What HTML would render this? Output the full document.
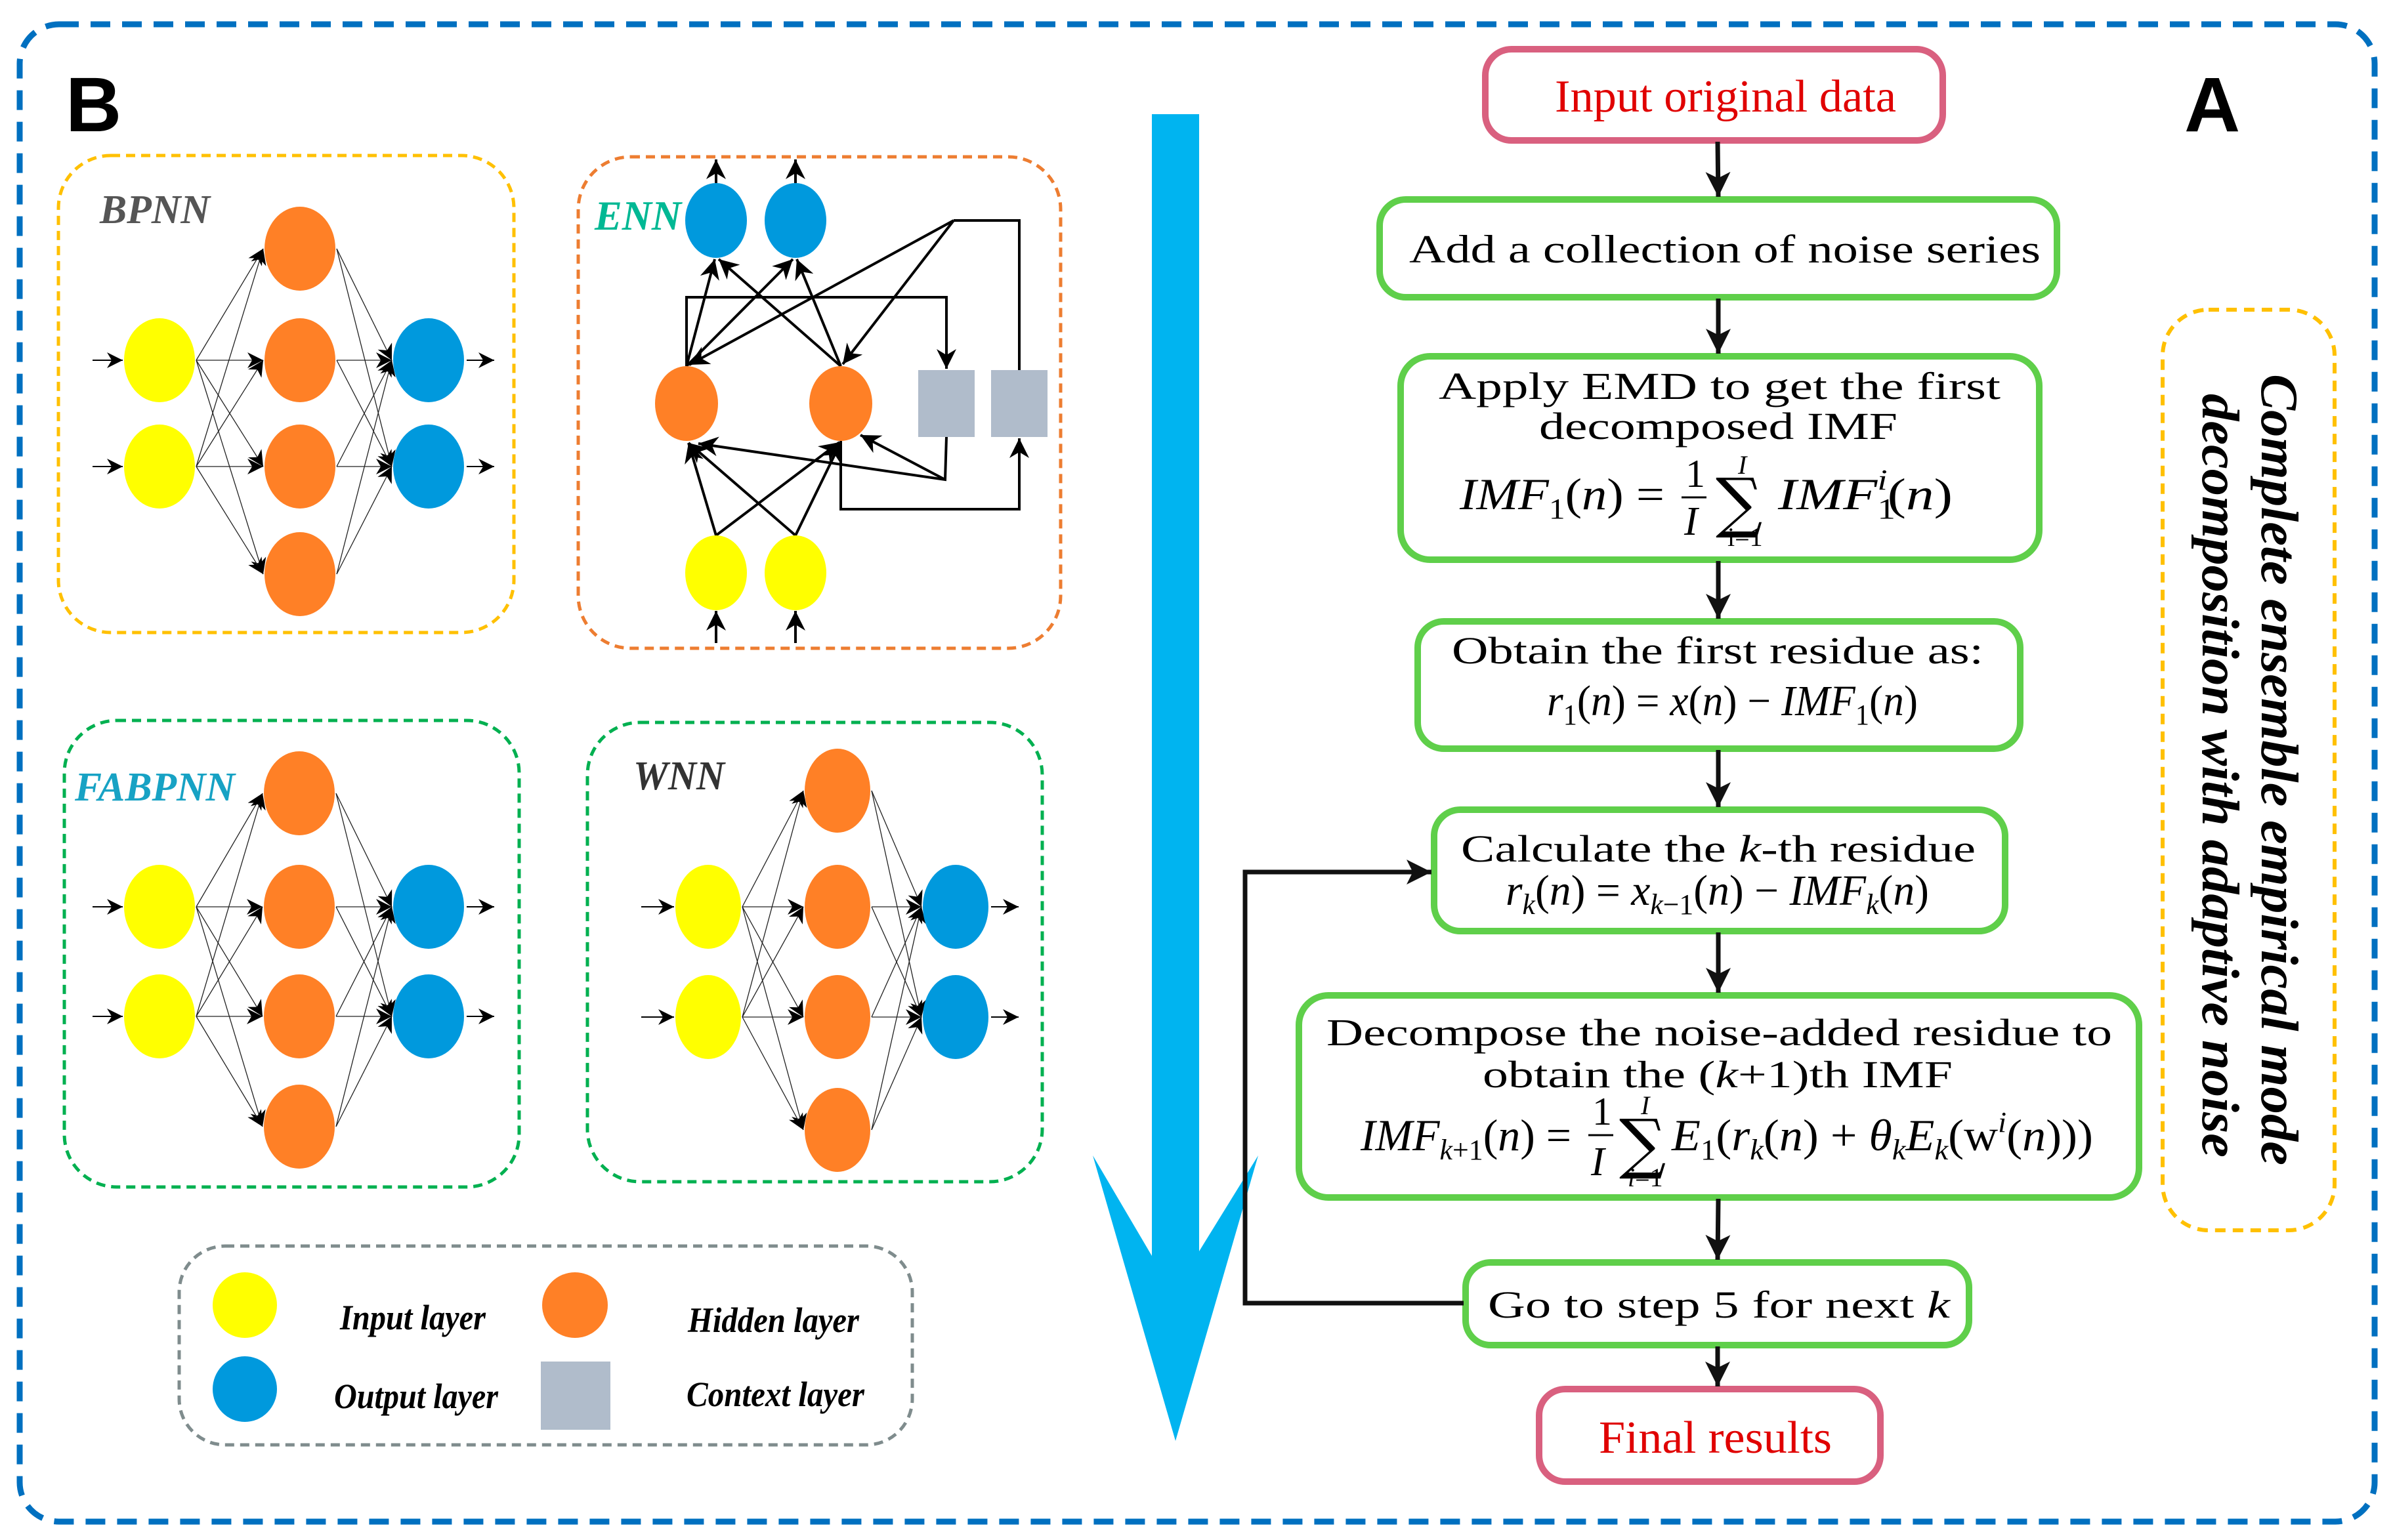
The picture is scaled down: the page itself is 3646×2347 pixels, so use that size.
<!DOCTYPE html>
<html><head><meta charset="utf-8"><style>
html,body{margin:0;padding:0;background:#fff;}
svg{display:block;}
.s{font-family:"Liberation Serif",serif;}
.bi{font-family:"Liberation Serif",serif;font-weight:bold;font-style:italic;}
.m{font-family:"Liberation Serif",serif;font-style:italic;}
.sig{font-family:"DejaVu Serif","Liberation Serif",serif;font-style:normal;}
</style></head><body>
<svg id="sv" width="3646" height="2347" viewBox="0 0 3646 2347" xmlns="http://www.w3.org/2000/svg">
<defs>
<marker id="ta" viewBox="0 0 10 10" refX="10" refY="5" markerWidth="24" markerHeight="24" markerUnits="userSpaceOnUse" orient="auto"><path d="M0,0 L10,5 L0,10 L3,5 z" fill="#000"/></marker>
<marker id="ea" viewBox="0 0 10 10" refX="10" refY="5" markerWidth="30" markerHeight="30" markerUnits="userSpaceOnUse" orient="auto"><path d="M0,0 L10,5 L0,10 L3,5 z" fill="#000"/></marker>
<marker id="fa" viewBox="0 0 10 10" refX="10" refY="5" markerWidth="38" markerHeight="38" markerUnits="userSpaceOnUse" orient="auto"><path d="M0,0 L10,5 L0,10 L2.5,5 z" fill="#111"/></marker>
</defs>

<rect x="30" y="37" width="3588" height="2282" rx="60" fill="none" stroke="#0070c0" stroke-width="9" stroke-dasharray="30 18"/>
<text x="100" y="200" font-family="Liberation Sans,sans-serif" font-weight="bold" font-size="118">B</text>
<text x="3328" y="200" font-family="Liberation Sans,sans-serif" font-weight="bold" font-size="118">A</text>

<rect x="89" y="237" width="694" height="727" rx="80" fill="none" stroke="#ffc000" stroke-width="5" stroke-dasharray="14 9"/>
<rect x="881" y="239" width="735" height="749" rx="80" fill="none" stroke="#ed7d31" stroke-width="5" stroke-dasharray="14 9"/>
<rect x="98" y="1098" width="693" height="711" rx="80" fill="none" stroke="#00b050" stroke-width="5" stroke-dasharray="14 9"/>
<rect x="895" y="1101" width="693" height="700" rx="80" fill="none" stroke="#00b050" stroke-width="5" stroke-dasharray="14 9"/>
<rect x="273" y="1899" width="1117" height="303" rx="70" fill="none" stroke="#7f8c8d" stroke-width="5" stroke-dasharray="14 9"/>

<text x="152" y="340" class="bi" font-size="62" fill="#555" textLength="168" lengthAdjust="spacingAndGlyphs">BPNN</text>
<text x="906" y="350" class="bi" font-size="64" fill="#00b894" textLength="132" lengthAdjust="spacingAndGlyphs">ENN</text>
<text x="114" y="1220" class="bi" font-size="62" fill="#17a2c4" textLength="244" lengthAdjust="spacingAndGlyphs">FABPNN</text>
<text x="965" y="1203" class="bi" font-size="62" fill="#333" textLength="139" lengthAdjust="spacingAndGlyphs">WNN</text>

<g id="nets"></g>

<g stroke="#000" stroke-width="4" fill="none">
<line x1="1091" y1="279" x2="1091" y2="243" marker-end="url(#ea)"/>
<line x1="1212" y1="279" x2="1212" y2="243" marker-end="url(#ea)"/>
<line x1="1091" y1="980" x2="1091" y2="931" marker-end="url(#ea)"/>
<line x1="1212" y1="980" x2="1212" y2="931" marker-end="url(#ea)"/>
<line x1="1046" y1="558" x2="1089" y2="395" marker-end="url(#ea)"/>
<line x1="1046" y1="558" x2="1208" y2="395" marker-end="url(#ea)"/>
<line x1="1281" y1="558" x2="1095" y2="395" marker-end="url(#ea)"/>
<line x1="1281" y1="558" x2="1214" y2="395" marker-end="url(#ea)"/>
<polyline points="1046,558 1046,453 1442,453 1442,562" marker-end="url(#ea)"/>
<line x1="1453" y1="336" x2="1050" y2="556" marker-end="url(#ea)"/>
<line x1="1453" y1="336" x2="1284" y2="555" marker-end="url(#ea)"/>
<polyline points="1453,336 1553,336 1553,564"/>
<polyline points="1442,666 1440,731 1064,676" marker-end="url(#ea)"/>
<line x1="1440" y1="731" x2="1311" y2="663" marker-end="url(#ea)"/>
<polyline points="1281,672 1281,776 1553,776 1553,668" marker-end="url(#ea)"/>
<line x1="1091" y1="816" x2="1049" y2="675" marker-end="url(#ea)"/>
<line x1="1091" y1="816" x2="1279" y2="674" marker-end="url(#ea)"/>
<line x1="1212" y1="816" x2="1049" y2="675" marker-end="url(#ea)"/>
<line x1="1212" y1="816" x2="1281" y2="674" marker-end="url(#ea)"/>
</g>
<g>
<ellipse cx="1091" cy="336" rx="47" ry="57" fill="#0099dd"/>
<ellipse cx="1212" cy="336" rx="47" ry="57" fill="#0099dd"/>
<ellipse cx="1046" cy="615" rx="48" ry="57" fill="#ff8026"/>
<ellipse cx="1281" cy="615" rx="48" ry="57" fill="#ff8026"/>
<ellipse cx="1091" cy="873" rx="47" ry="57" fill="#ffff00"/>
<ellipse cx="1212" cy="873" rx="47" ry="57" fill="#ffff00"/>
<rect x="1399" y="564" width="86" height="102" fill="#b0bccb"/>
<rect x="1510" y="564" width="86" height="102" fill="#b0bccb"/>
</g>

<ellipse cx="373" cy="1989" rx="49" ry="50" fill="#ffff00"/>
<ellipse cx="373" cy="2117" rx="49" ry="50" fill="#0099dd"/>
<ellipse cx="876" cy="1989" rx="50" ry="50" fill="#ff8026"/>
<rect x="824" y="2075" width="106" height="104" fill="#b0bccb"/>
<text x="518" y="2026" class="bi" font-size="54" textLength="222" lengthAdjust="spacingAndGlyphs">Input layer</text>
<text x="509" y="2146" class="bi" font-size="54" textLength="250" lengthAdjust="spacingAndGlyphs">Output layer</text>
<text x="1048" y="2030" class="bi" font-size="54" textLength="261" lengthAdjust="spacingAndGlyphs">Hidden layer</text>
<text x="1046" y="2143" class="bi" font-size="54" textLength="271" lengthAdjust="spacingAndGlyphs">Context layer</text>

<polygon points="1755,174 1827,174 1827,1907 1917,1761 1791,2196 1665,1761 1755,1914" fill="#00b4f0"/>

<g fill="#fff" stroke-width="10">
<rect x="2263" y="75" width="697" height="139" rx="40" stroke="#d9607f"/>
<rect x="2102" y="304" width="1032" height="149" rx="40" stroke="#5fcf4a"/>
<rect x="2134" y="543" width="973" height="310" rx="45" stroke="#5fcf4a"/>
<rect x="2160" y="947" width="918" height="194" rx="40" stroke="#5fcf4a"/>
<rect x="2185" y="1234" width="870" height="185" rx="40" stroke="#5fcf4a"/>
<rect x="1979" y="1517" width="1280" height="308" rx="45" stroke="#5fcf4a"/>
<rect x="2233" y="1924" width="767" height="126" rx="38" stroke="#5fcf4a"/>
<rect x="2345" y="2117" width="520" height="141" rx="40" stroke="#d9607f"/>
</g>
<g stroke="#111" stroke-width="7" fill="none">
<line x1="2617" y1="216" x2="2618" y2="300" marker-end="url(#fa)"/>
<line x1="2618" y1="455" x2="2618" y2="539" marker-end="url(#fa)"/>
<line x1="2618" y1="855" x2="2618" y2="943" marker-end="url(#fa)"/>
<line x1="2618" y1="1143" x2="2618" y2="1230" marker-end="url(#fa)"/>
<line x1="2618" y1="1421" x2="2618" y2="1513" marker-end="url(#fa)"/>
<line x1="2618" y1="1827" x2="2617" y2="1920" marker-end="url(#fa)"/>
<line x1="2617" y1="2052" x2="2617" y2="2113" marker-end="url(#fa)"/>
<polyline points="2230,1986 1897,1986 1897,1329 2181,1329" marker-end="url(#fa)"/>
</g>

<text x="2369" y="170" class="s" font-size="70" fill="#e00000" textLength="520" lengthAdjust="spacingAndGlyphs">Input original data</text>
<text x="2147" y="400" class="s" font-size="60" textLength="962" lengthAdjust="spacingAndGlyphs">Add a collection of noise series</text>
<text x="2192" y="608" class="s" font-size="58" textLength="856" lengthAdjust="spacingAndGlyphs">Apply EMD  to get the first</text>
<text x="2345" y="669" class="s" font-size="58" textLength="546" lengthAdjust="spacingAndGlyphs">decomposed IMF</text>

<g class="m" font-size="68">
<text x="2224" y="776" textLength="312" lengthAdjust="spacingAndGlyphs"><tspan>IMF</tspan><tspan font-size="44" dy="14" font-style="normal">1</tspan><tspan dy="-14" font-style="normal">(</tspan><tspan>n</tspan><tspan font-style="normal">) =</tspan></text>
<text x="2568" y="742" font-style="normal" font-size="60">1</text>
<line x1="2562" y1="758" x2="2600" y2="758" stroke="#000" stroke-width="3"/>
<text x="2566" y="815" font-size="62">I</text>
<text x="2614" y="800" class="sig" font-size="100">∑</text>
<text x="2648" y="722" font-size="40">I</text>
<text x="2632" y="832" font-style="normal" font-size="40">i=1</text>
<text x="2709" y="776" textLength="266" lengthAdjust="spacingAndGlyphs"><tspan>IMF</tspan><tspan font-size="44" dy="14" font-style="normal">1</tspan><tspan font-size="44" dy="-44" dx="-22">i</tspan><tspan dy="30" font-style="normal">(</tspan><tspan>n</tspan><tspan font-style="normal">)</tspan></text>
</g>
<text x="2212" y="1011" class="s" font-size="58" textLength="810" lengthAdjust="spacingAndGlyphs">Obtain the first residue as:</text>
<text x="2357" y="1090" class="m" font-size="66" textLength="565" lengthAdjust="spacingAndGlyphs"><tspan>r</tspan><tspan font-size="44" dy="14" font-style="normal">1</tspan><tspan dy="-14" font-style="normal">(</tspan><tspan>n</tspan><tspan font-style="normal">) = </tspan><tspan>x</tspan><tspan font-style="normal">(</tspan><tspan>n</tspan><tspan font-style="normal">) − </tspan><tspan>IMF</tspan><tspan font-size="44" dy="14" font-style="normal">1</tspan><tspan dy="-14" font-style="normal">(</tspan><tspan>n</tspan><tspan font-style="normal">)</tspan></text>
<text x="2226" y="1313" class="s" font-size="58" textLength="784" lengthAdjust="spacingAndGlyphs">Calculate the <tspan font-style="italic">k</tspan>-th residue</text>
<text x="2294" y="1379" class="m" font-size="66" textLength="645" lengthAdjust="spacingAndGlyphs"><tspan>r</tspan><tspan font-size="44" dy="14">k</tspan><tspan dy="-14" font-style="normal">(</tspan><tspan>n</tspan><tspan font-style="normal">) = </tspan><tspan>x</tspan><tspan font-size="44" dy="14">k</tspan><tspan font-size="44" font-style="normal">−1</tspan><tspan dy="-14" font-style="normal">(</tspan><tspan>n</tspan><tspan font-style="normal">) − </tspan><tspan>IMF</tspan><tspan font-size="44" dy="14">k</tspan><tspan dy="-14" font-style="normal">(</tspan><tspan>n</tspan><tspan font-style="normal">)</tspan></text>
<text x="2021" y="1593" class="s" font-size="58" textLength="1197" lengthAdjust="spacingAndGlyphs">Decompose the noise-added residue to</text>
<text x="2259" y="1657" class="s" font-size="58" textLength="716" lengthAdjust="spacingAndGlyphs">obtain the (<tspan font-style="italic">k</tspan>+1)th IMF</text>

<g class="m" font-size="68">
<text x="2073" y="1753" textLength="321" lengthAdjust="spacingAndGlyphs"><tspan>IMF</tspan><tspan font-size="44" dy="14">k</tspan><tspan font-size="44" font-style="normal">+1</tspan><tspan dy="-14" font-style="normal">(</tspan><tspan>n</tspan><tspan font-style="normal">) =</tspan></text>
<text x="2426" y="1714" font-style="normal" font-size="60">1</text>
<line x1="2420" y1="1730" x2="2458" y2="1730" stroke="#000" stroke-width="3"/>
<text x="2424" y="1791" font-size="62">I</text>
<text x="2467" y="1777" class="sig" font-size="100">∑</text>
<text x="2500" y="1698" font-size="40">I</text>
<text x="2480" y="1808" font-size="40">i<tspan font-style="normal">=1</tspan></text>
<text x="2547" y="1753" textLength="642" lengthAdjust="spacingAndGlyphs"><tspan>E</tspan><tspan font-size="44" dy="14" font-style="normal">1</tspan><tspan dy="-14" font-style="normal">(</tspan><tspan>r</tspan><tspan font-size="44" dy="14">k</tspan><tspan dy="-14" font-style="normal">(</tspan><tspan>n</tspan><tspan font-style="normal">) + </tspan><tspan>θ</tspan><tspan font-size="44" dy="14">k</tspan><tspan dy="-14">E</tspan><tspan font-size="44" dy="14">k</tspan><tspan dy="-14" font-style="normal">(w</tspan><tspan font-size="44" dy="-28">i</tspan><tspan dy="28" font-style="normal">(</tspan><tspan>n</tspan><tspan font-style="normal">)))</tspan></text>
</g>
<text x="2267" y="2008" class="s" font-size="58" textLength="704" lengthAdjust="spacingAndGlyphs">Go to step 5 for next <tspan font-style="italic">k</tspan></text>
<text x="2436" y="2214" class="s" font-size="70" fill="#e00000" textLength="355" lengthAdjust="spacingAndGlyphs">Final results</text>

<rect x="3295" y="472" width="262" height="1403" rx="70" fill="none" stroke="#ffc000" stroke-width="6" stroke-dasharray="16 11"/>
<text class="bi" font-size="80" transform="translate(3446,570) rotate(90)" textLength="1206" lengthAdjust="spacingAndGlyphs">Complete ensemble empirical mode</text>
<text class="bi" font-size="80" transform="translate(3356,600) rotate(90)" textLength="1164" lengthAdjust="spacingAndGlyphs">decomposition with adaptive noise</text>
</svg>
<script>
(function(){
var g=document.getElementById("nets"),h="";
function net(yx,yys,ox,oys,bx,bys,rx){
 var i,j;
 for(i=0;i<yys.length;i++){h+='<line x1="'+(yx-102)+'" y1="'+yys[i]+'" x2="'+(yx-rx-2)+'" y2="'+yys[i]+'" stroke="#000" stroke-width="2" marker-end="url(#ta)"/>';}
 for(i=0;i<bys.length;i++){h+='<line x1="'+(bx+rx+4)+'" y1="'+bys[i]+'" x2="'+(bx+rx+46)+'" y2="'+bys[i]+'" stroke="#000" stroke-width="2" marker-end="url(#ta)"/>';}
 for(i=0;i<yys.length;i++)for(j=0;j<oys.length;j++){h+='<line x1="'+(yx+rx+2)+'" y1="'+yys[i]+'" x2="'+(ox-rx-2)+'" y2="'+oys[j]+'" stroke="#222" stroke-width="1.3" marker-end="url(#ta)"/>';}
 for(i=0;i<oys.length;i++)for(j=0;j<bys.length;j++){h+='<line x1="'+(ox+rx+2)+'" y1="'+oys[i]+'" x2="'+(bx-rx-2)+'" y2="'+bys[j]+'" stroke="#222" stroke-width="1.3" marker-end="url(#ta)"/>';}
 for(i=0;i<yys.length;i++)h+='<ellipse cx="'+yx+'" cy="'+yys[i]+'" rx="'+rx+'" ry="64" fill="#ffff00"/>';
 for(i=0;i<oys.length;i++)h+='<ellipse cx="'+ox+'" cy="'+oys[i]+'" rx="'+rx+'" ry="64" fill="#ff8026"/>';
 for(i=0;i<bys.length;i++)h+='<ellipse cx="'+bx+'" cy="'+bys[i]+'" rx="'+rx+'" ry="64" fill="#0099dd"/>';
}
net(243,[549,711],457,[379,549,711,875],653,[549,711],54);
net(243,[1382,1549],456,[1209,1382,1549,1717],653,[1382,1549],54);
net(1079,[1382,1550],1276,[1205,1382,1550,1722],1456,[1382,1550],50);
g.innerHTML=h;
})();
</script>
</body></html>
